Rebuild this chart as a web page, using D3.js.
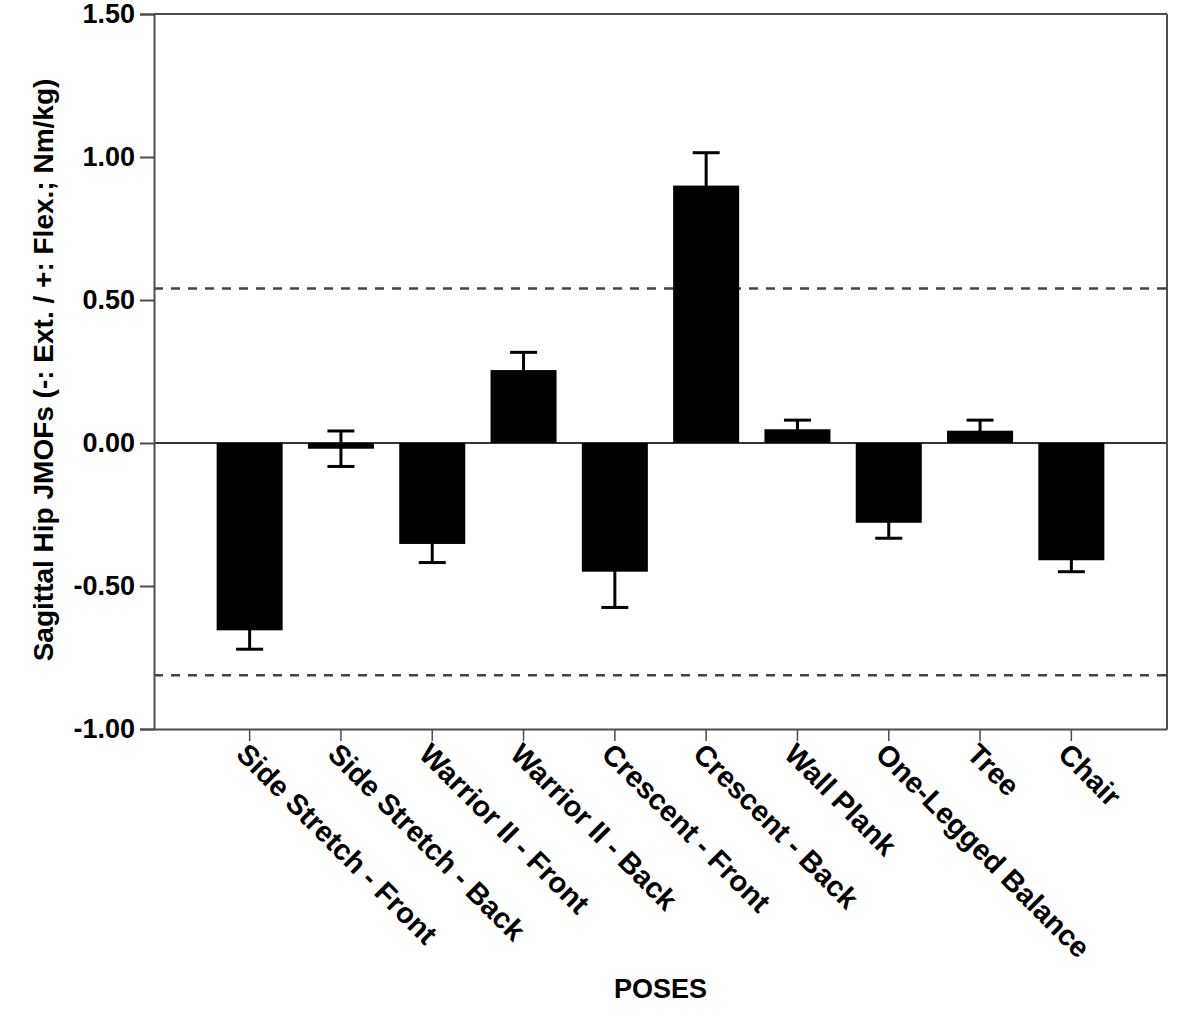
<!DOCTYPE html>
<html>
<head>
<meta charset="utf-8">
<script src="https://cdn.jsdelivr.net/npm/d3@7"></script>
<style>
  html, body { margin: 0; padding: 0; background: #fff; }
  svg { display: block; font-family: Arial, "Liberation Sans", sans-serif; }
</style>
</head>
<body>
<svg id="chart" width="1200" height="1025"></svg>
<script>
// ---- data ----
const poses = ["Side Stretch - Front", "Side Stretch - Back", "Warrior II - Front", "Warrior II - Back",
  "Crescent - Front", "Crescent - Back", "Wall Plank", "One-Legged Balance", "Tree", "Chair"];
const means = [-0.655, -0.02, -0.353, 0.255, -0.45, 0.90, 0.048, -0.279, 0.043, -0.41];
const errors = [0.066, 0.062, 0.065, 0.062, 0.125, 0.115, 0.032, 0.054, 0.037, 0.04];
const refLines = [0.54, -0.812];
const yTicks = [-1.0, -0.5, 0.0, 0.5, 1.0, 1.5];
const yTitle = "Sagittal Hip JMOFs (-: Ext. / +: Flex.; Nm/kg)";
const xTitle = "POSES";

// ---- layout ----
const L = 154, R = 1167, T = 14, B = 729;
const FONT = "Arial, 'Liberation Sans', sans-serif";
const svg = d3.select("#chart");

const x = d3.scaleBand().domain(poses).range([L, R]).paddingInner(0.277).paddingOuter(0.686);
const y = d3.scaleLinear().domain([-1, 1.5]).range([B, T]);

const axisColor = "#4d4d4d";

// reference dashed lines
svg.append("g").selectAll("line").data(refLines).join("line")
  .attr("x1", L).attr("x2", R)
  .attr("y1", d => y(d)).attr("y2", d => y(d))
  .attr("stroke", "#444").attr("stroke-width", 2.5)
  .attr("stroke-dasharray", "9,8");

// zero line
svg.append("line")
  .attr("x1", L).attr("x2", R).attr("y1", y(0)).attr("y2", y(0))
  .attr("stroke", "#333").attr("stroke-width", 2);

// error bars
const data = poses.map((p, i) => ({ p, m: means[i], e: errors[i] }));
const capW = 27;
const cx = d => x(d.p) + x.bandwidth() / 2;
const eg = svg.append("g").attr("stroke", "#000").attr("stroke-width", 3);
eg.selectAll("line.stem").data(data).join("line").attr("class", "stem")
  .attr("x1", cx).attr("x2", cx)
  .attr("y1", d => y(d.m + d.e)).attr("y2", d => y(d.m - d.e));
eg.selectAll("line.capt").data(data).join("line").attr("class", "capt")
  .attr("x1", d => cx(d) - capW / 2).attr("x2", d => cx(d) + capW / 2)
  .attr("y1", d => y(d.m + d.e)).attr("y2", d => y(d.m + d.e));
eg.selectAll("line.capb").data(data).join("line").attr("class", "capb")
  .attr("x1", d => cx(d) - capW / 2).attr("x2", d => cx(d) + capW / 2)
  .attr("y1", d => y(d.m - d.e)).attr("y2", d => y(d.m - d.e));

// bars
svg.append("g").selectAll("rect").data(data).join("rect")
  .attr("x", d => x(d.p)).attr("width", x.bandwidth())
  .attr("y", d => y(Math.max(0, d.m)))
  .attr("height", d => Math.abs(y(d.m) - y(0)))
  .attr("fill", "#000");

// frame (top & right)
svg.append("line").attr("x1", L).attr("x2", R).attr("y1", T).attr("y2", T)
  .attr("stroke", axisColor).attr("stroke-width", 2);
svg.append("line").attr("x1", R).attr("x2", R).attr("y1", T).attr("y2", B)
  .attr("stroke", axisColor).attr("stroke-width", 2);

// y axis
const yAxis = svg.append("g").attr("transform", `translate(${L},0)`)
  .call(d3.axisLeft(y).tickValues(yTicks).tickFormat(d => d.toFixed(2)).tickSize(14).tickPadding(5));
yAxis.select(".domain").attr("stroke", axisColor).attr("stroke-width", 2);
yAxis.selectAll(".tick line").attr("stroke", axisColor).attr("stroke-width", 2);
yAxis.selectAll(".tick text").attr("fill", "#000").attr("font-size", 27)
  .attr("font-weight", "bold").attr("font-family", FONT);

// x axis
const xAxis = svg.append("g").attr("transform", `translate(0,${B})`)
  .call(d3.axisBottom(x).tickSize(12).tickSizeOuter(0));
xAxis.select(".domain").attr("stroke", axisColor).attr("stroke-width", 2);
xAxis.selectAll(".tick line").attr("stroke", axisColor).attr("stroke-width", 1.5);
xAxis.selectAll(".tick text")
  .attr("fill", "#000").attr("font-size", 29).attr("font-weight", "bold").attr("font-family", FONT)
  .attr("text-anchor", "start")
  .attr("x", 0).attr("y", 0).attr("dy", "0.72em")
  .attr("transform", "translate(0,12) rotate(45)");

// titles
svg.append("text")
  .attr("transform", `translate(53,${370}) rotate(-90)`)
  .attr("text-anchor", "middle")
  .attr("font-size", 28).attr("font-weight", "bold").attr("fill", "#000")
  .text(yTitle);

svg.append("text")
  .attr("x", (L + R) / 2).attr("y", 998)
  .attr("text-anchor", "middle")
  .attr("font-size", 27).attr("font-weight", "bold").attr("fill", "#000")
  .text(xTitle);
</script>
</body>
</html>
